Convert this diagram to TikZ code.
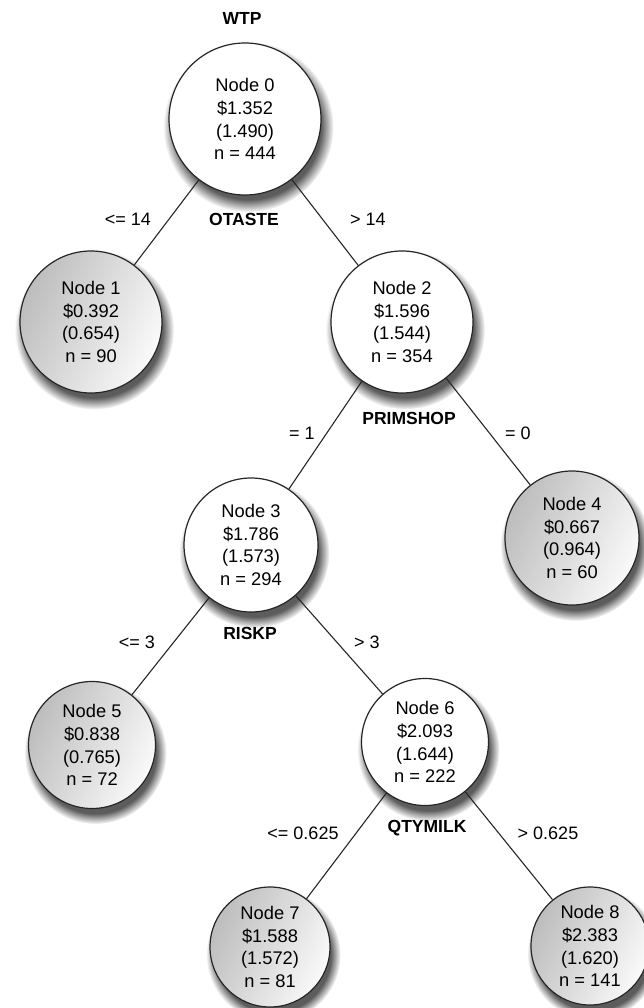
\documentclass[tikz,border=0pt]{standalone}
\usepackage{fontspec}
\setmainfont{Liberation Sans}
\usetikzlibrary{shadows,fadings}
\tikzset{
  tnode/.style={circle, draw=black!85, line width=1.2pt, fill=white, align=center,
    font=\fontsize{18.3}{22.8}\selectfont, inner sep=0pt,
    circular drop shadow={shadow xshift=3pt, shadow yshift=-7pt, shadow scale=1.12, opacity=0.85, fill=black!75}},
  leaf/.style={tnode, left color=black!26, right color=black!2, shading angle=65},
  var/.style={font=\fontsize{17.5}{20}\selectfont\bfseries, inner sep=0pt},
  cond/.style={font=\fontsize{18}{20}\selectfont, inner sep=0pt},
  edge/.style={draw=black!85, line width=1.1pt}
}
\begin{document}
\begin{tikzpicture}[x=1pt,y=-1pt]
\useasboundingbox (0,0) rectangle (644,1008);
\node[tnode, minimum size=152pt] (n0) at (245,119) {Node 0\\\$1.352\\(1.490)\\n = 444};
\node[leaf, minimum size=142pt] (n1) at (91,322) {Node 1\\\$0.392\\(0.654)\\n = 90};
\node[tnode, minimum size=142pt] (n2) at (402,322) {Node 2\\\$1.596\\(1.544)\\n = 354};
\node[tnode, minimum size=134pt] (n3) at (251,545) {Node 3\\\$1.786\\(1.573)\\n = 294};
\node[leaf, minimum size=134pt] (n4) at (572,538) {Node 4\\\$0.667\\(0.964)\\n = 60};
\node[leaf, minimum size=127pt] (n5) at (92,745) {Node 5\\\$0.838\\(0.765)\\n = 72};
\node[tnode, minimum size=127pt] (n6) at (425,742) {Node 6\\\$2.093\\(1.644)\\n = 222};
\node[leaf, minimum size=120pt] (n7) at (270,947) {Node 7\\\$1.588\\(1.572)\\n = 81};
\node[leaf, minimum size=118pt] (n8) at (590,946) {Node 8\\\$2.383\\(1.620)\\n = 141};

\draw[edge] (n0) -- (n1);
\draw[edge] (n0) -- (n2);
\draw[edge] (n2) -- (n3);
\draw[edge] (n2) -- (n4);
\draw[edge] (n3) -- (n5);
\draw[edge] (n3) -- (n6);
\draw[edge] (n6) -- (n7);
\draw[edge] (n6) -- (n8);

\node[var] (vwtp) at (242,18) {WTP};
\node[var] (votaste) at (244,219) {OTASTE};
\node[var] (vprim) at (409,418) {PRIMSHOP};
\node[var] (vrisk) at (250,633) {RISKP};
\node[var] (vqty) at (427,828) {QTYMILK};

\node[cond] (c1) at (128,219) {<= 14};
\node[cond] (c2) at (368,219) {> 14};
\node[cond] (c3) at (302,433) {= 1};
\node[cond] (c4) at (518,433) {= 0};
\node[cond] (c5) at (137,642) {<= 3};
\node[cond] (c6) at (367,642) {> 3};
\node[cond] (c7) at (303,833) {<= 0.625};
\node[cond] (c8) at (548,833) {> 0.625};
\end{tikzpicture}
\end{document}
